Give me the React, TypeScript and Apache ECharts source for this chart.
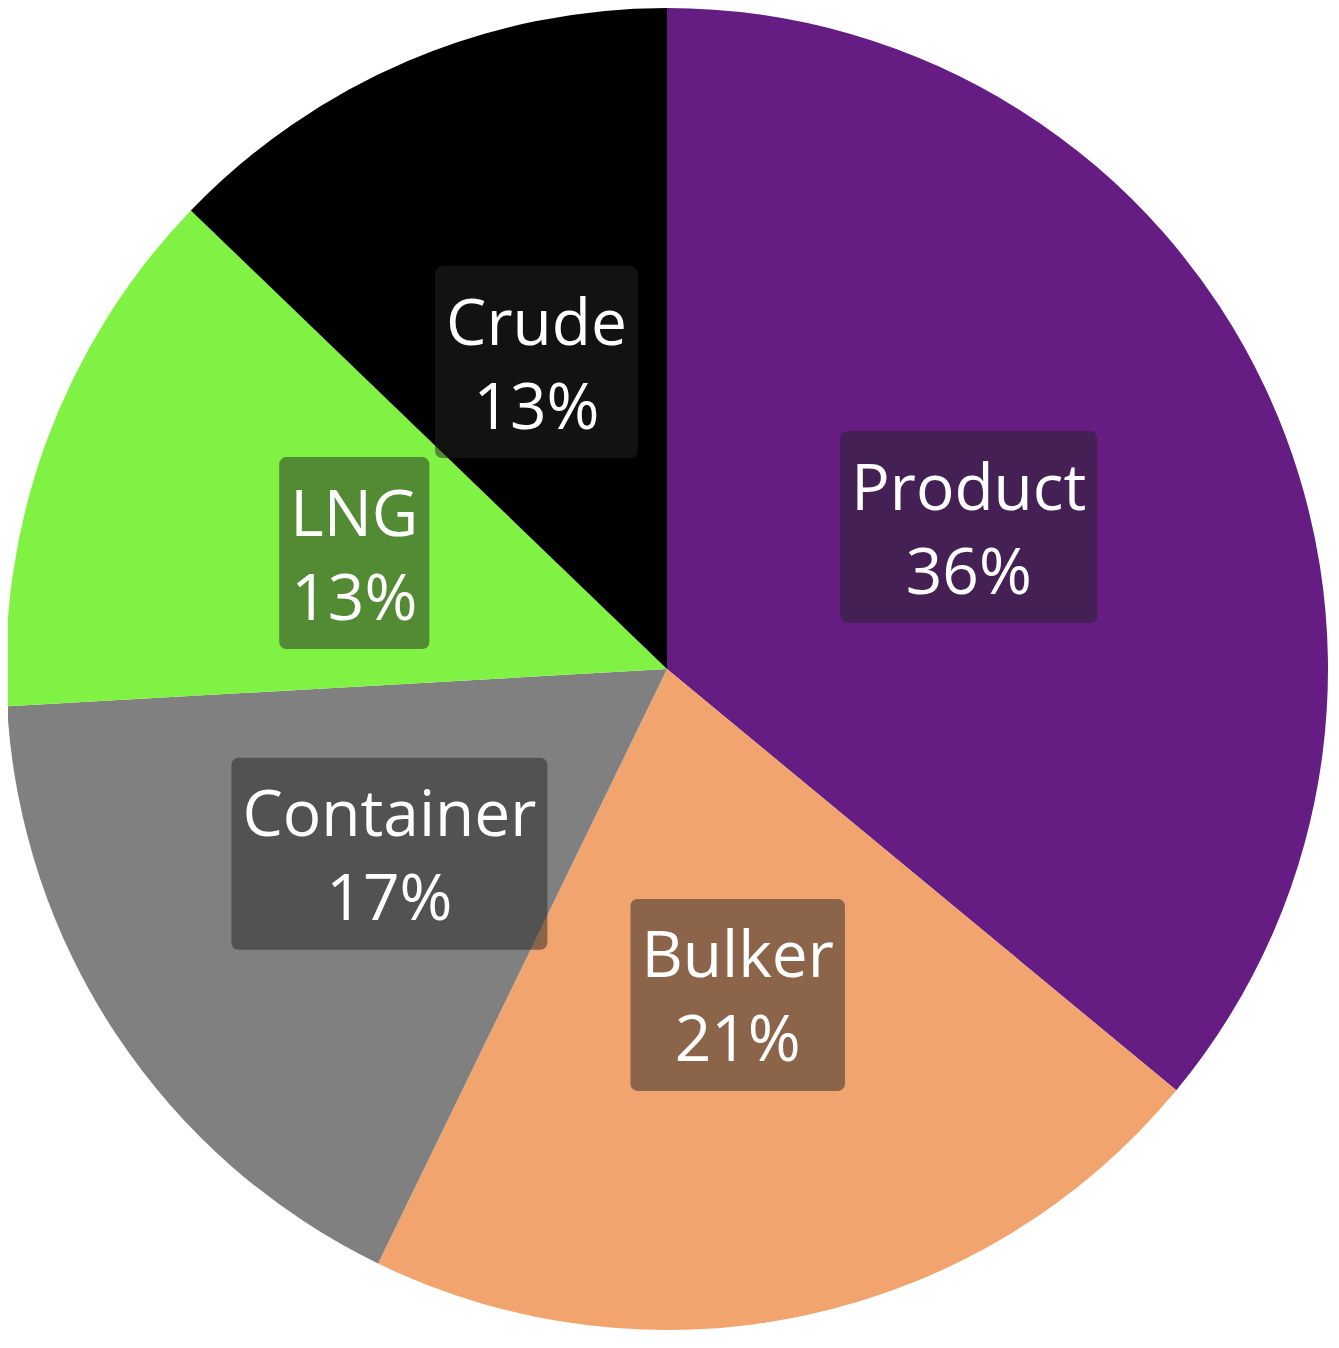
import React, { useEffect, useRef } from "react";
import * as echarts from "echarts";

const categories = ["Product", "Bulker", "Container", "LNG", "Crude"];
const values = [36.0, 21.2, 16.9, 13.1, 12.8];
const colors = ["#651d84", "#f2a46e", "#808080", "#80f244", "#000000"];

export default function App() {
  const ref = useRef<HTMLDivElement>(null);
  useEffect(() => {
    if (!ref.current) return;
    const chart = echarts.init(ref.current, undefined, { renderer: "svg" });
    chart.setOption({
      animation: false,
      series: [
        {
          type: "pie",
          center: [659, 661],
          radius: [0, 661],
          startAngle: 90,
          clockwise: true,
          avoidLabelOverlap: false,
          data: categories.map((name, i) => ({
            name,
            value: values[i],
            itemStyle: { color: colors[i] },
          })),
          itemStyle: { borderWidth: 0 },
          label: {
            show: true,
            position: "inside",
            formatter: (p: any) => `${p.name}\n${Math.round(p.percent)}%`,
            color: "#ffffff",
            fontFamily: "Open Sans",
            fontSize: 64,
            lineHeight: 84,
            backgroundColor: "rgba(35,35,35,0.5)",
            borderRadius: 7,
            padding: [12, 11],
            align: "center",
          },
          labelLine: { show: false },
          emphasis: { disabled: true },
        },
      ],
    });
    return () => chart.dispose();
  }, []);
  return <div ref={ref} style={{ width: 1323, height: 1332 }} />;
}
